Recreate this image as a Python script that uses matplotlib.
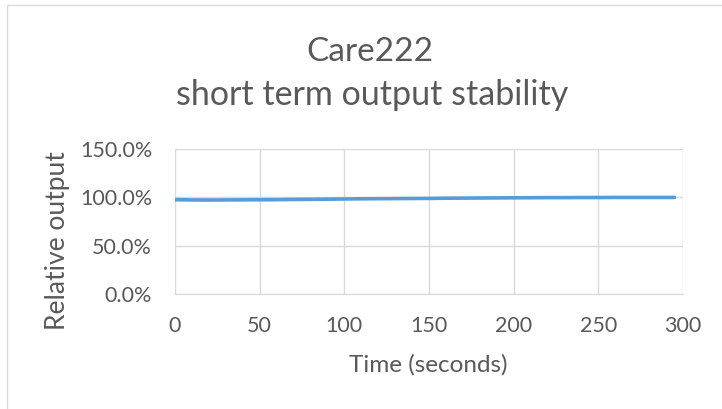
import matplotlib.pyplot as plt
from matplotlib.patches import Rectangle
from matplotlib.ticker import PercentFormatter

# time (s) and relative output (%)
time_s = [0, 10, 20, 30, 40, 50, 60, 70, 80, 90, 100, 110, 120, 130, 140, 150,
          160, 170, 180, 190, 200, 210, 220, 230, 240, 250, 260, 270, 280, 290, 295]
output_pct = [97.6, 97.3, 97.2, 97.3, 97.4, 97.5, 97.6, 97.8, 97.9, 98.1, 98.3,
              98.5, 98.6, 98.7, 98.8, 98.9, 99.1, 99.2, 99.3, 99.4, 99.5, 99.6,
              99.7, 99.7, 99.8, 99.8, 99.9, 99.9, 99.9, 99.9, 99.9]
x_ticks = [0, 50, 100, 150, 200, 250, 300]
y_ticks = [0, 50, 100, 150]

plt.rcParams['font.family'] = ['Lato', 'DejaVu Sans']
txt = '#595959'
grid = '#D9D9D9'
W, H = 722, 409

fig = plt.figure(figsize=(7.22, 4.09), dpi=100)
# chart area border (only left/top edges visible in the crop)
fig.patches.append(Rectangle((7 / W, -0.1), 1.2, (H - 5) / H + 0.1,
                             transform=fig.transFigure, fill=False,
                             edgecolor=grid, linewidth=1))

ax = fig.add_axes([175 / W, 1 - 294 / H, 508 / W, 145 / H])
ax.plot(time_s, output_pct, color='#5B9BD5', linewidth=2.6, solid_capstyle='round')

ax.set_xlim(0, 300)
ax.set_ylim(0, 150)
ax.set_xticks(x_ticks)
ax.set_yticks(y_ticks)
ax.yaxis.set_major_formatter(PercentFormatter(decimals=1))
ax.grid(True, color=grid, linewidth=1)
ax.set_axisbelow(True)
for s in ['top', 'right', 'left']:
    ax.spines[s].set_visible(False)
ax.spines['bottom'].set_color(grid)
ax.tick_params(length=0, colors=txt, labelsize=15.5)
ax.tick_params(axis='x', pad=16)
ax.tick_params(axis='y', pad=16.5)

# titles and axis titles
fig.text(370 / W, 1 - 61 / H, 'Care222', ha='center', va='baseline',
         color=txt, fontsize=24)
fig.text(372 / W, 1 - 105 / H, 'short term output stability',
         ha='center', va='baseline', color=txt, fontsize=24.5)
fig.text(428 / W, 1 - 372 / H, 'Time (seconds)', ha='center', va='baseline',
         color=txt, fontsize=17.5)
fig.text(57 / W, 1 - 241 / H, 'Relative output', ha='center', va='center',
         rotation=90, color=txt, fontsize=19)

fig.savefig('out.png', dpi=100)
